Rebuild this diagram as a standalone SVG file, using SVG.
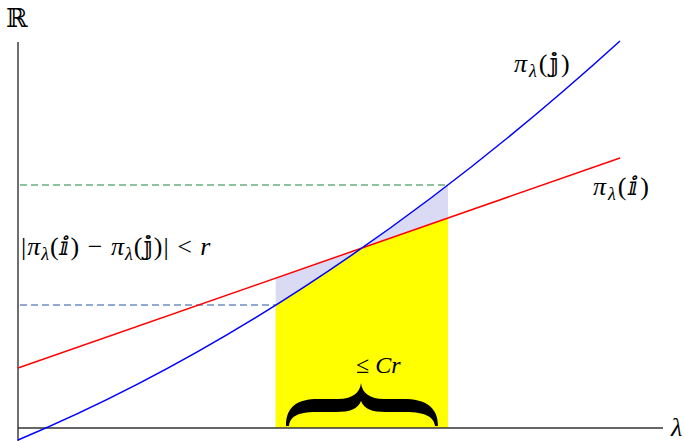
<svg xmlns="http://www.w3.org/2000/svg" width="684" height="441" viewBox="0 0 684 441">
<style>
.t{font-family:"Liberation Serif","DejaVu Serif",serif;font-size:26px;fill:#000}
.i{font-style:italic}
.sub{font-size:18px;font-style:italic}
.dash{stroke-width:1.3;stroke-dasharray:7 4;fill:none}
.axis{stroke:#333;stroke-width:1.4;fill:none}
</style>
<rect width="684" height="441" fill="#fff"/>
<g id="regions">
<path d="M275.7,428 L275.7,278.1 L361.7,248.1 Q404.85,218.1 448,184.9 L448,428 Z" fill="#dadaf5"/>
<path d="M275.7,428 L275.7,305.2 Q318.7,278.2 361.7,248.2 L448,218 L448,428 Z" fill="#ffff00"/>
</g>
<g id="dashes">
<line class="dash" stroke="#6aae7c" x1="20" y1="185" x2="448" y2="185"/>
<line class="dash" stroke="#6f8dc4" x1="20" y1="305" x2="275.7" y2="305"/>
</g>
<g id="axes">
<line class="axis" x1="18" y1="42" x2="18" y2="441"/>
<line class="axis" x1="18" y1="428" x2="663" y2="428"/>
</g>
<g id="curves">
<line x1="18" y1="368" x2="620" y2="158" stroke="#ff0000" stroke-width="1.5"/>
<path d="M18,440 Q319,314 620,41" stroke="#0000ff" stroke-width="1.5" fill="none"/>
</g>
<g id="brace">
<path d="M286,426 C286,406 298,399 318,399 L338,399 C352,399 360,393 361,383 C362,393 370,399 384,399 L404,399 C424,399 438,406 438,426 L435,426 C434,417 425,412 406,412 L386,412 C372,412 364,409 361,401 C358,409 350,412 336,412 L316,412 C297,412 290,417 289,426 Z" fill="#000"/>
</g>
<g id="labels">
<text class="t" x="6" y="27">ℝ</text>
<text class="t i" x="671" y="436">λ</text>
<text class="t" x="514" y="72" letter-spacing="2"><tspan class="i">π</tspan><tspan class="sub" dy="5">λ</tspan><tspan dy="-5">(𝕛)</tspan></text>
<text class="t" x="593" y="195" letter-spacing="2"><tspan class="i">π</tspan><tspan class="sub" dy="5">λ</tspan><tspan dy="-5">(ⅈ)</tspan></text>
<text class="t" x="21" y="255" letter-spacing="1"><tspan>|</tspan><tspan class="i">π</tspan><tspan class="sub" dy="5">λ</tspan><tspan dy="-5">(ⅈ) − </tspan><tspan class="i">π</tspan><tspan class="sub" dy="5">λ</tspan><tspan dy="-5">(𝕛)| &lt; </tspan><tspan class="i">r</tspan></text>
<text class="t" x="356" y="373" style="font-size:24px">≤ <tspan class="i">Cr</tspan></text>
</g>
</svg>
